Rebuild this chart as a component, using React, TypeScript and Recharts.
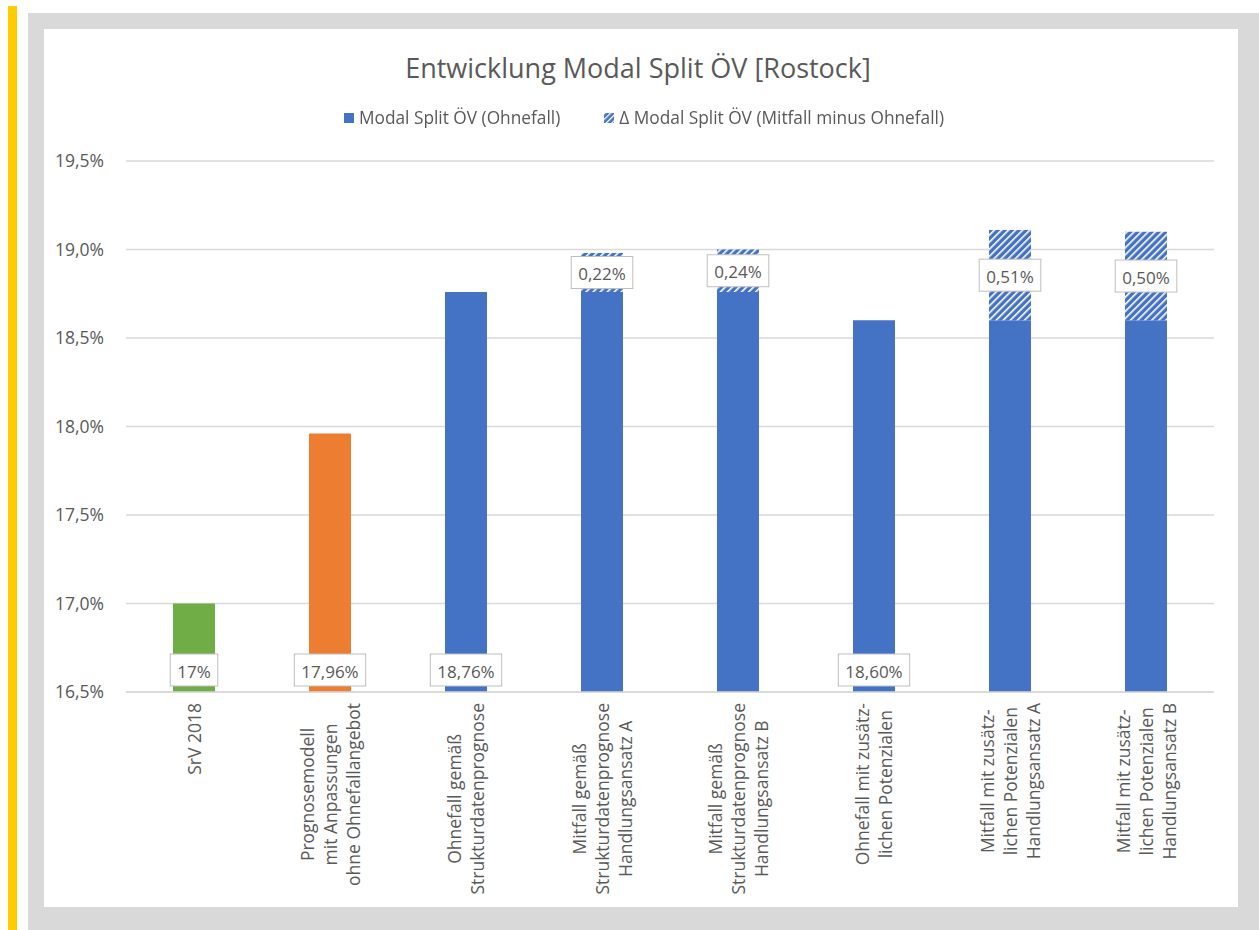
import React from "react";
import { BarChart, Bar, XAxis, YAxis, CartesianGrid, Legend, Cell, LabelList } from "recharts";

const categories = [
  "SrV 2018",
  "Prognosemodell\nmit Anpassungen\nohne Ohnefallangebot",
  "Ohnefall gemäß\nStrukturdatenprognose",
  "Mitfall gemäß\nStrukturdatenprognose\nHandlungsansatz A",
  "Mitfall gemäß\nStrukturdatenprognose\nHandlungsansatz B",
  "Ohnefall mit zusätz-\nlichen Potenzialen",
  "Mitfall mit zusätz-\nlichen Potenzialen\nHandlungsansatz A",
  "Mitfall mit zusätz-\nlichen Potenzialen\nHandlungsansatz B",
];
const ohnefall = [17.0, 17.96, 18.76, 18.76, 18.76, 18.6, 18.6, 18.6];
const deltaMitfall = [0, 0, 0, 0.22, 0.24, 0, 0.51, 0.5];
const baseLabels = ["17%", "17,96%", "18,76%", "", "", "18,60%", "", ""];
const deltaLabels = ["", "", "", "0,22%", "0,24%", "", "0,51%", "0,50%"];
const barColors = ["#70AD47", "#ED7D31", "#4472C4", "#4472C4", "#4472C4", "#4472C4", "#4472C4", "#4472C4"];
const yTicks = [16.5, 17, 17.5, 18, 18.5, 19, 19.5];

const FONT = "'Open Sans', 'Noto Sans', sans-serif";
const TEXT = "#595959";
const BLUE = "#4472C4";
const PLOT_BOTTOM = 692;

const data = categories.map((name, i) => ({
  name,
  base: ohnefall[i],
  delta: deltaMitfall[i],
  baseLabel: baseLabels[i],
  deltaLabel: deltaLabels[i],
}));

let ctx: CanvasRenderingContext2D | null = null;
function textWidth(t: string, size: number) {
  if (!ctx) ctx = document.createElement("canvas").getContext("2d");
  if (!ctx) return t.length * size * 0.55;
  ctx.font = `${size}px 'Open Sans'`;
  return ctx.measureText(t).width;
}

function BoxLabel({ cx, cy, text }: { cx: number; cy: number; text: string }) {
  const w = textWidth(text, 17) + 14;
  const h = 32;
  return (
    <g>
      <rect x={cx - w / 2} y={cy - h / 2} width={w} height={h} fill="#fff" stroke="#BFBFBF" />
      <text x={cx} y={cy + 1} textAnchor="middle" dominantBaseline="central" fill={TEXT} fontSize={17} fontFamily={FONT}>
        {text}
      </text>
    </g>
  );
}

const baseLabelContent = (p: any) => {
  if (!p.value) return null;
  return <BoxLabel cx={p.x + p.width / 2} cy={PLOT_BOTTOM - 22} text={p.value} />;
};

const deltaLabelContent = (p: any) => {
  if (!p.value) return null;
  return <BoxLabel cx={p.x + p.width / 2} cy={p.y + p.height / 2} text={p.value} />;
};

function CategoryTick(props: any) {
  const { x, payload } = props;
  const lines = String(payload.value).split("\n");
  const maxW = Math.max(...lines.map((l) => textWidth(l, 17.5)));
  const top = PLOT_BOTTOM + 11;
  const cy = top + maxW / 2;
  const lh = 23;
  return (
    <g>
      {lines.map((l, i) => {
        const cx = x + (i - (lines.length - 1) / 2) * lh;
        return (
          <text
            key={i}
            x={cx}
            y={cy}
            transform={`rotate(-90, ${cx}, ${cy})`}
            textAnchor="middle"
            dominantBaseline="central"
            fill={TEXT}
            fontSize={17.5}
            fontFamily={FONT}
          >
            {l}
          </text>
        );
      })}
    </g>
  );
}

function HatchIcon({ id }: { id: string }) {
  return (
    <svg width={10} height={10} style={{ display: "block" }}>
      <defs>
        <pattern id={id} width={4} height={4} patternUnits="userSpaceOnUse" patternTransform="rotate(45)">
          <rect width={4} height={4} fill={BLUE} />
          <rect width={1.3} height={4} fill="#fff" />
        </pattern>
      </defs>
      <rect width={10} height={10} fill={`url(#${id})`} />
    </svg>
  );
}

const renderLegend = () => (
  <div
    style={{
      display: "flex",
      justifyContent: "center",
      alignItems: "center",
      gap: 44,
      fontFamily: FONT,
      fontSize: 17.3,
      color: TEXT,
    }}
  >
    <div style={{ display: "flex", alignItems: "center", gap: 5 }}>
      <div style={{ width: 10, height: 10, background: BLUE }} />
      <span>Modal Split ÖV (Ohnefall)</span>
    </div>
    <div style={{ display: "flex", alignItems: "center", gap: 5 }}>
      <HatchIcon id="legendHatch" />
      <span>Δ Modal Split ÖV (Mitfall minus Ohnefall)</span>
    </div>
  </div>
);

export default function App() {
  return (
    <div style={{ position: "fixed", left: 0, top: 0, width: 1259, height: 930, background: "#fff", fontFamily: FONT }}>
      <div style={{ position: "absolute", left: 8, top: 6, width: 9, height: 924, background: "#FFCC00" }} />
      <div style={{ position: "absolute", left: 28, top: 13, width: 1231, height: 917, background: "#D9D9D9" }} />
      <div style={{ position: "absolute", left: 44, top: 29, width: 1194, height: 878, background: "#fff" }} />
      <div
        style={{
          position: "absolute",
          left: 0,
          top: 50,
          width: 1276,
          textAlign: "center",
          fontSize: 27,
          lineHeight: "36px",
          color: TEXT,
        }}
      >
        Entwicklung Modal Split ÖV [Rostock]
      </div>
      <div style={{ position: "absolute", left: 0, top: 0 }}>
        <BarChart width={1259} height={930} data={data} margin={{ top: 161, right: 45, bottom: 0, left: 56 }}>
          <defs>
            <pattern id="hatch" width={5} height={5} patternUnits="userSpaceOnUse" patternTransform="rotate(45)">
              <rect width={5} height={5} fill={BLUE} />
              <rect width={1.6} height={5} fill="#fff" />
            </pattern>
          </defs>
          <CartesianGrid vertical={false} stroke="#D9D9D9" strokeWidth={1.5} />
          <XAxis
            dataKey="name"
            interval={0}
            height={238}
            tickLine={false}
            axisLine={{ stroke: "#D9D9D9", strokeWidth: 1.5 }}
            tick={<CategoryTick />}
          />
          <YAxis
            width={70}
            domain={[16.5, 19.5]}
            ticks={yTicks}
            allowDataOverflow
            axisLine={false}
            tickLine={false}
            tickMargin={16}
            tickFormatter={(v: number) => v.toFixed(1).replace(".", ",") + "%"}
            tick={{ fill: TEXT, fontSize: 17.5, fontFamily: FONT }}
          />
          <Legend
            verticalAlign="middle"
            align="center"
            content={renderLegend}
            wrapperStyle={{ top: 106, left: 0, width: 1288 }}
          />
          <Bar dataKey="base" stackId="a" barSize={42} isAnimationActive={false}>
            {data.map((_, i) => (
              <Cell key={i} fill={barColors[i]} />
            ))}
            <LabelList dataKey="baseLabel" content={baseLabelContent} />
          </Bar>
          <Bar dataKey="delta" stackId="a" barSize={42} fill="url(#hatch)" isAnimationActive={false}>
            <LabelList dataKey="deltaLabel" content={deltaLabelContent} />
          </Bar>
        </BarChart>
      </div>
    </div>
  );
}
